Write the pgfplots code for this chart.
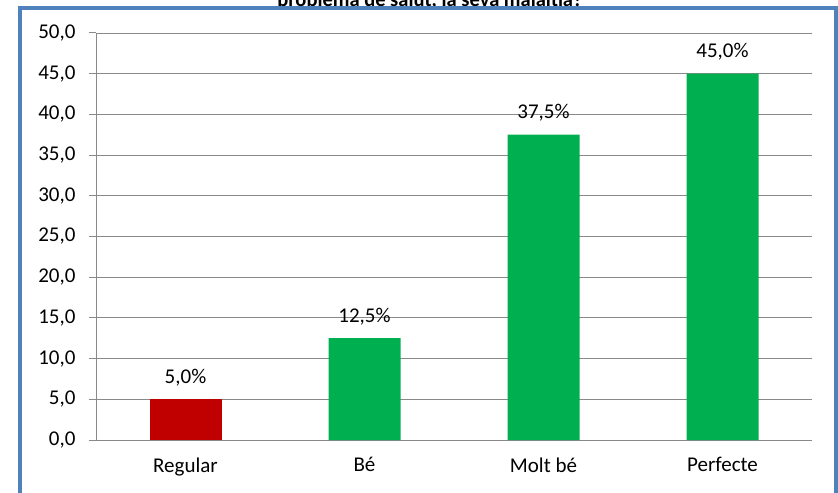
\documentclass[border=0pt]{standalone}
\usepackage{pgfplots}
\pgfplotsset{compat=1.18}
\usepackage{fontspec}
\setmainfont{Carlito}
\definecolor{barred}{HTML}{C00000}
\definecolor{bargreen}{HTML}{00B050}
\definecolor{frameblue}{HTML}{4F81BD}
\definecolor{axgray}{HTML}{898989}
\begin{document}
\begin{tikzpicture}
\begin{axis}[
  at={(96bp,53bp)}, anchor=south west,
  scale only axis, width=716bp, height=407bp,
  xmin=-0.5, xmax=3.5, ymin=0, ymax=50,
  axis x line=bottom, axis y line=left,
  axis line style={axgray, line width=1pt, -},
  ytick={0,5,...,50},
  ymajorgrids, grid style={axgray, line width=0.9pt},
  yticklabel style={/pgf/number format/fixed, /pgf/number format/precision=1, /pgf/number format/fixed zerofill, /pgf/number format/use comma, /pgf/number format/assume math mode=true, font=\fontsize{21bp}{24bp}\selectfont, black, xshift=-10bp},
  ytick style={axgray, line width=1pt},
  major tick length=7bp,
  tick align=outside,
  xtick={0,1,2,3},
  xticklabels={Regular, Bé, Molt bé, Perfecte},
  xticklabel style={font=\fontsize{21bp}{24bp}\selectfont, black, yshift=-7bp},
  x tick style={draw=none},
  minor xtick={-0.5,0.5,1.5,2.5,3.5},
  minor x tick style={axgray, line width=1pt},
  minor tick length=6bp,
  ybar, bar width=72bp, bar shift=0pt,
  nodes near coords={\pgfmathprintnumber[fixed,precision=1,fixed zerofill,use comma,assume math mode=true]{\pgfplotspointmeta}\%},
  nodes near coords style={font=\fontsize{21bp}{24bp}\selectfont, black, anchor=base, yshift=16bp},
  clip=false,
]
\addplot[fill=barred, draw=none] coordinates {(0,5.0)};
\addplot[fill=bargreen, draw=none] coordinates {(1,12.5) (2,37.5) (3,45.0)};
\end{axis}
\node[anchor=base, font=\bfseries\fontsize{20.5bp}{24bp}\selectfont] at (430bp,486bp) {problema de salut, la seva malaltia?};
\draw[frameblue, line width=4bp] (19.5bp,-20bp) -- (19.5bp,485bp) -- (836bp,485bp) -- (836bp,-20bp);
\pgfresetboundingbox
\useasboundingbox (0,0) rectangle (838bp,493bp);
\end{tikzpicture}
\end{document}
